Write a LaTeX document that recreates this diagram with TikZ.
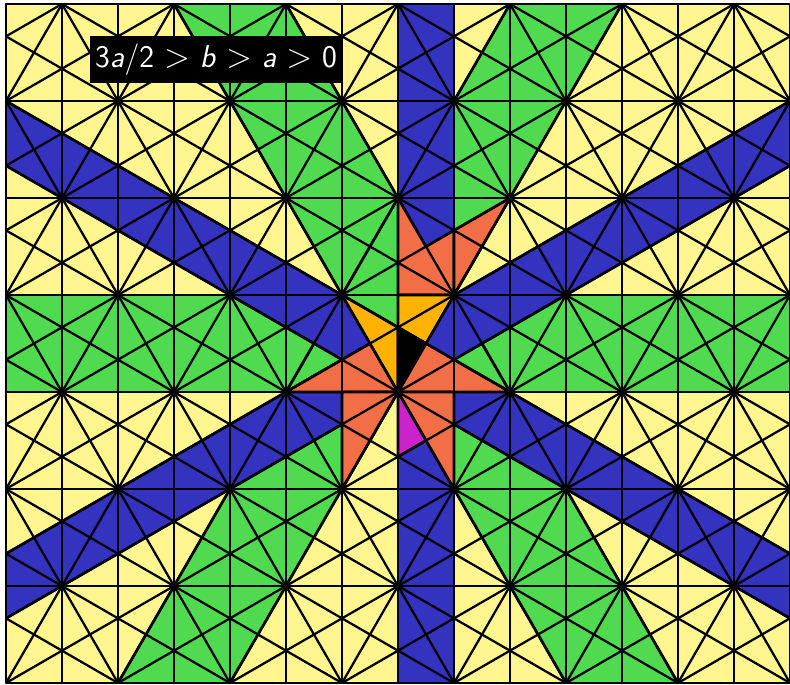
\documentclass[tikz,border=0pt]{standalone}
\usepackage{tikz}
\definecolor{cellY}{RGB}{255,246,143}
\definecolor{cellG}{RGB}{80,218,80}
\definecolor{cellB}{RGB}{51,51,191}
\definecolor{cellR}{RGB}{242,110,70}
\definecolor{cellO}{RGB}{255,178,0}
\definecolor{cellM}{RGB}{204,34,204}
\begin{document}
\begin{tikzpicture}[x=1cm,y=1.7320508cm,line join=round,
wall/.style={line width=1.15pt},
cell/.style={draw,line width=1.35pt},
tag/.style={fill=black,text=white,inner sep=0pt,minimum width=4.5cm,minimum height=0.84cm,font=\fontsize{16}{18}\selectfont\sffamily}]
\useasboundingbox (-7.107,-3.0104) rectangle (7,4.0415);
\begin{scope}
\clip (-7,-3) rectangle (7,4);
\fill[cellY] (-7,-3) rectangle (7,4);
\filldraw[cell,fill=cellG] (-8,0) rectangle (8,1);
\filldraw[cell,fill=cellG] (-10,10) -- (10,-10) -- (12,-10) -- (-8,10) -- cycle;
\filldraw[cell,fill=cellG] (-10,-10) -- (10,10) -- (8,10) -- (-12,-10) -- cycle;
\filldraw[cell,fill=cellB] (0,-4) rectangle (1,5);
\filldraw[cell,fill=cellB] (12,-4) -- (-15,5) -- (-13,5) -- (14,-4) -- cycle;
\filldraw[cell,fill=cellB] (-14,-4) -- (13,5) -- (15,5) -- (-12,-4) -- cycle;
\filldraw[cell,fill=cellR] (0,2) -- (0.5,1.5) -- (1,{5/3}) -- (1,1) -- (0,1) -- cycle;
\filldraw[cell,fill=cellR] (2,2) -- (1,{5/3}) -- (1,1) -- cycle;
\filldraw[cell,fill=cellR] (0,0) -- (0.5,0.5) -- (2,0) -- cycle;
\filldraw[cell,fill=cellR] (0,0) -- (-0.5,0.5) -- (-2,0) -- cycle;
\filldraw[cell,fill=cellR] (0,0) -- (1,0) -- (1,-1) -- cycle;
\filldraw[cell,fill=cellR] (0,0) -- (-1,0) -- (-1,-1) -- cycle;
\filldraw[cell,fill=cellO] (0,1) -- (1,1) -- (0.5,0.5) -- (0,{2/3}) -- cycle;
\filldraw[cell,fill=cellO] (-1,1) -- (0,{2/3}) -- (0,0) -- (-0.5,0.5) -- cycle;
\filldraw[cell,fill=black] (0,0) -- (0,{2/3}) -- (0.5,0.5) -- cycle;
\filldraw[cell,fill=cellM] (0,0) -- (0.5,-0.5) -- (0,{-2/3}) -- cycle;
\foreach \k in {-7,...,7} \draw[wall] (\k,-3) -- (\k,4);
\foreach \k in {-3,...,4} \draw[wall] (-7,\k) -- (7,\k);
\foreach \m in {-6,...,6} {
  \draw[wall] ({2*\m-5},-5) -- ({2*\m+5},5);
  \draw[wall] ({2*\m+5},-5) -- ({2*\m-5},5);
}
\foreach \m in {-10,...,10} {
  \draw[wall] ({2*\m-15},-5) -- ({2*\m+15},5);
  \draw[wall] ({2*\m+15},-5) -- ({2*\m-15},5);
}
\end{scope}
\draw[wall] (-7,-3) rectangle (7,4);
\node[tag] (cond) at (-3.25,3.43) {3\textit{a}/2 $>$ \textit{b} $>$ \textit{a} $>$ 0};
\end{tikzpicture}
\end{document}
